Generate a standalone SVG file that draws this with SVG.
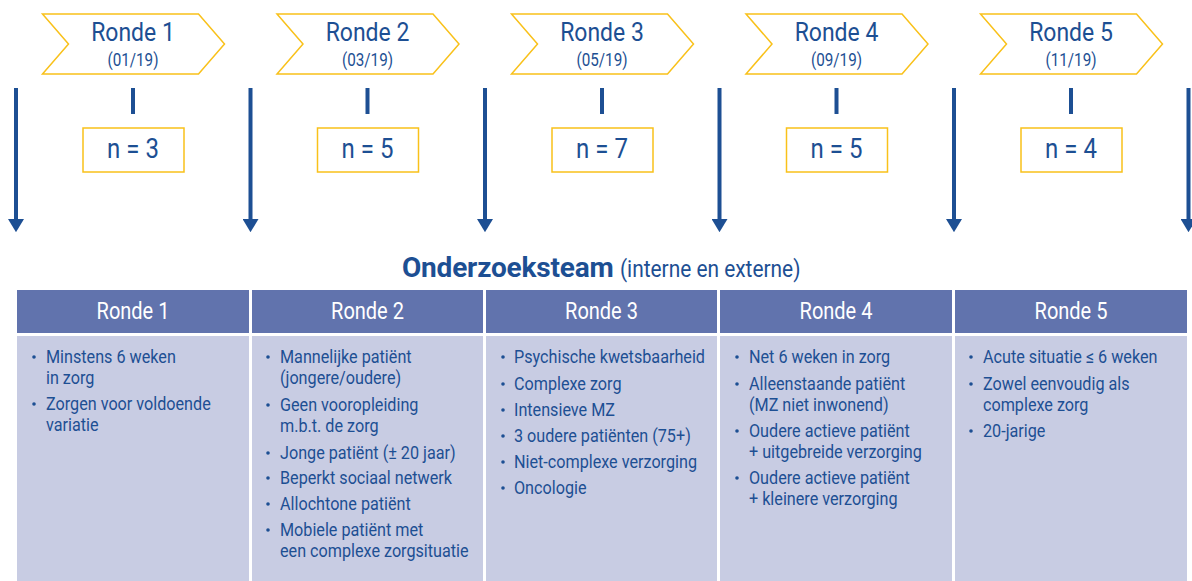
<svg xmlns="http://www.w3.org/2000/svg" width="1192" height="581" viewBox="0 0 1192 581">
<style>
.chev{fill:#fff;stroke:#f9c11a;stroke-width:1.5}
.nbox{fill:#fff;stroke:#f9c11a;stroke-width:1.5}
.t{font-family:Roboto,"Liberation Sans",sans-serif;fill:#1d4f93;text-anchor:middle}
.big{font-size:26.4px}
.date{font-size:17.5px}
.n{font-size:27.6px}
.bar{stroke:#1d4f93;stroke-width:4}
.arr{stroke:#1d4f93;stroke-width:4}
.hd{fill:#6173ad}
.bd{fill:#c8cce3}
.ht{font-family:Roboto,"Liberation Sans",sans-serif;fill:#fff;font-size:23px;text-anchor:middle}
.li{font-family:Roboto,"Liberation Sans",sans-serif;fill:#1d4f93;font-size:18.6px}
.dot{fill:#1d4f93}
</style>
<defs>
<marker id="ah" markerWidth="3.3" markerHeight="4" refX="0" refY="2" orient="auto" markerUnits="strokeWidth" viewBox="0 0 3.3 4">
<path d="M0,0 L3.3,2 L0,4 Z" fill="#1d4f93"/>
</marker>
<polygon id="chevshape" points="0,0 156,0 182,30 156,60 0,60 26,30"/>
</defs>
<g id="connectors">
<line class="arr" x1="16" y1="88" x2="16" y2="219" marker-end="url(#ah)"/>
<line class="arr" x1="250.5" y1="88" x2="250.5" y2="219" marker-end="url(#ah)"/>
<line class="arr" x1="485" y1="88" x2="485" y2="219" marker-end="url(#ah)"/>
<line class="arr" x1="719.5" y1="88" x2="719.5" y2="219" marker-end="url(#ah)"/>
<line class="arr" x1="954" y1="88" x2="954" y2="219" marker-end="url(#ah)"/>
<line class="arr" x1="1188.5" y1="88" x2="1188.5" y2="219" marker-end="url(#ah)"/>
<line class="bar" x1="133" y1="88" x2="133" y2="114"/>
<line class="bar" x1="367.5" y1="88" x2="367.5" y2="114"/>
<line class="bar" x1="602" y1="88" x2="602" y2="114"/>
<line class="bar" x1="836.5" y1="88" x2="836.5" y2="114"/>
<line class="bar" x1="1071" y1="88" x2="1071" y2="114"/>
</g>
<g id="ronde1">
<use href="#chevshape" class="chev" x="42.5" y="14"/>
<rect class="nbox" x="83" y="128" width="101" height="44"/>
<g transform="scale(0.87 1)">
<text class="t big" x="152.87" y="41">Ronde 1</text>
<text class="t date" x="152.87" y="66">(01/19)</text>
<text class="t n" x="152.87" y="158">n = 3</text>
</g>
</g>
<g id="ronde2">
<use href="#chevshape" class="chev" x="277" y="14"/>
<rect class="nbox" x="317.5" y="128" width="101" height="44"/>
<g transform="scale(0.87 1)">
<text class="t big" x="422.41" y="41">Ronde 2</text>
<text class="t date" x="422.41" y="66">(03/19)</text>
<text class="t n" x="422.41" y="158">n = 5</text>
</g>
</g>
<g id="ronde3">
<use href="#chevshape" class="chev" x="511.5" y="14"/>
<rect class="nbox" x="552" y="128" width="101" height="44"/>
<g transform="scale(0.87 1)">
<text class="t big" x="691.95" y="41">Ronde 3</text>
<text class="t date" x="691.95" y="66">(05/19)</text>
<text class="t n" x="691.95" y="158">n = 7</text>
</g>
</g>
<g id="ronde4">
<use href="#chevshape" class="chev" x="746" y="14"/>
<rect class="nbox" x="786.5" y="128" width="101" height="44"/>
<g transform="scale(0.87 1)">
<text class="t big" x="961.49" y="41">Ronde 4</text>
<text class="t date" x="961.49" y="66">(09/19)</text>
<text class="t n" x="961.49" y="158">n = 5</text>
</g>
</g>
<g id="ronde5">
<use href="#chevshape" class="chev" x="980.5" y="14"/>
<rect class="nbox" x="1021" y="128" width="101" height="44"/>
<g transform="scale(0.87 1)">
<text class="t big" x="1231.03" y="41">Ronde 5</text>
<text class="t date" x="1231.03" y="66">(11/19)</text>
<text class="t n" x="1231.03" y="158">n = 4</text>
</g>
</g>
<g id="title">
<text class="t" x="402" y="277" style="text-anchor:start;font-weight:bold;font-size:28px;letter-spacing:-0.2px">Onderzoeksteam</text>
<g transform="scale(0.87 1)">
<text class="t" x="712.6" y="277" style="text-anchor:start;font-size:24px">(interne en externe)</text>
</g>
</g>
<g id="table">
<rect class="hd" x="17" y="290" width="232" height="43"/>
<rect class="hd" x="252" y="290" width="231" height="43"/>
<rect class="hd" x="486" y="290" width="231" height="43"/>
<rect class="hd" x="720" y="290" width="232" height="43"/>
<rect class="hd" x="955" y="290" width="232" height="43"/>
<rect class="bd" x="17" y="336" width="232" height="245"/>
<rect class="bd" x="252" y="336" width="231" height="245"/>
<rect class="bd" x="486" y="336" width="231" height="245"/>
<rect class="bd" x="720" y="336" width="232" height="245"/>
<rect class="bd" x="955" y="336" width="232" height="245"/>
<g transform="scale(0.87 1)">
<text class="ht" x="152.87" y="319">Ronde 1</text>
<text class="ht" x="422.41" y="319">Ronde 2</text>
<text class="ht" x="691.38" y="319">Ronde 3</text>
<text class="ht" x="960.92" y="319">Ronde 4</text>
<text class="ht" x="1231.03" y="319">Ronde 5</text>
</g>
</g>
<g id="col1">
<circle class="dot" cx="34" cy="357" r="1.8"/>
<circle class="dot" cx="34" cy="404" r="1.8"/>
<g transform="scale(0.87 1)">
<text class="li" x="52.87" y="363">Minstens 6 weken</text>
<text class="li" x="52.87" y="384">in zorg</text>
<text class="li" x="52.87" y="410">Zorgen voor voldoende</text>
<text class="li" x="52.87" y="431">variatie</text>
</g>
</g>
<g id="col2">
<circle class="dot" cx="268" cy="357" r="1.8"/>
<circle class="dot" cx="268" cy="405" r="1.8"/>
<circle class="dot" cx="268" cy="453" r="1.8"/>
<circle class="dot" cx="268" cy="478" r="1.8"/>
<circle class="dot" cx="268" cy="504" r="1.8"/>
<circle class="dot" cx="268" cy="530" r="1.8"/>
<g transform="scale(0.87 1)">
<text class="li" x="321.84" y="363">Mannelijke patiënt</text>
<text class="li" x="321.84" y="384">(jongere/oudere)</text>
<text class="li" x="321.84" y="411">Geen vooropleiding</text>
<text class="li" x="321.84" y="432">m.b.t. de zorg</text>
<text class="li" x="321.84" y="459">Jonge patiënt (± 20 jaar)</text>
<text class="li" x="321.84" y="484">Beperkt sociaal netwerk</text>
<text class="li" x="321.84" y="510">Allochtone patiënt</text>
<text class="li" x="321.84" y="536">Mobiele patiënt met</text>
<text class="li" x="321.84" y="557">een complexe zorgsituatie</text>
</g>
</g>
<g id="col3">
<circle class="dot" cx="503" cy="357" r="1.8"/>
<circle class="dot" cx="503" cy="384" r="1.8"/>
<circle class="dot" cx="503" cy="410" r="1.8"/>
<circle class="dot" cx="503" cy="436" r="1.8"/>
<circle class="dot" cx="503" cy="462" r="1.8"/>
<circle class="dot" cx="503" cy="488" r="1.8"/>
<g transform="scale(0.87 1)">
<text class="li" x="590.8" y="363">Psychische kwetsbaarheid</text>
<text class="li" x="590.8" y="390">Complexe zorg</text>
<text class="li" x="590.8" y="416">Intensieve MZ</text>
<text class="li" x="590.8" y="442">3 oudere patiënten (75+)</text>
<text class="li" x="590.8" y="468">Niet-complexe verzorging</text>
<text class="li" x="590.8" y="494">Oncologie</text>
</g>
</g>
<g id="col4">
<circle class="dot" cx="737" cy="357" r="1.8"/>
<circle class="dot" cx="737" cy="384" r="1.8"/>
<circle class="dot" cx="737" cy="431" r="1.8"/>
<circle class="dot" cx="737" cy="478" r="1.8"/>
<g transform="scale(0.87 1)">
<text class="li" x="860.92" y="363">Net 6 weken in zorg</text>
<text class="li" x="860.92" y="390">Alleenstaande patiënt</text>
<text class="li" x="860.92" y="411">(MZ niet inwonend)</text>
<text class="li" x="860.92" y="437">Oudere actieve patiënt</text>
<text class="li" x="860.92" y="458">+ uitgebreide verzorging</text>
<text class="li" x="860.92" y="484">Oudere actieve patiënt</text>
<text class="li" x="860.92" y="505">+ kleinere verzorging</text>
</g>
</g>
<g id="col5">
<circle class="dot" cx="971" cy="357" r="1.8"/>
<circle class="dot" cx="971" cy="384" r="1.8"/>
<circle class="dot" cx="971" cy="431" r="1.8"/>
<g transform="scale(0.87 1)">
<text class="li" x="1129.89" y="363">Acute situatie ≤ 6 weken</text>
<text class="li" x="1129.89" y="390">Zowel eenvoudig als</text>
<text class="li" x="1129.89" y="411">complexe zorg</text>
<text class="li" x="1129.89" y="437">20-jarige</text>
</g>
</g>
</svg>
